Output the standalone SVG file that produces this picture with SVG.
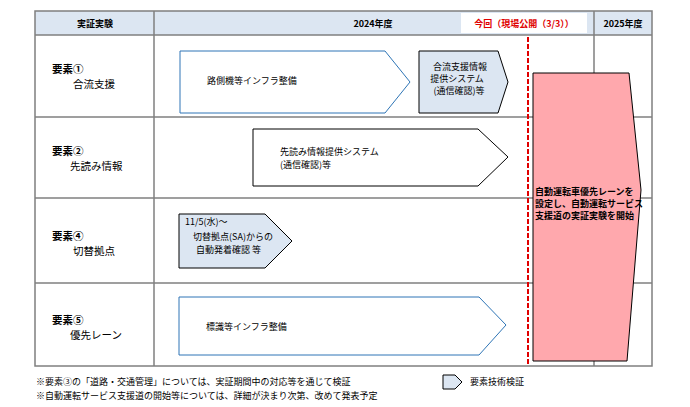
<svg xmlns="http://www.w3.org/2000/svg" width="690" height="407" viewBox="0 0 690 407">
<style>
text{font-family:"Noto Sans CJK JP","Liberation Sans",sans-serif;font-size:9px;fill:#000}
.b{font-weight:bold}
.lbl{font-size:10.5px}
.grid{stroke:#7f7f7f;stroke-width:1.5;fill:none}
.wa{fill:#fff;stroke:#2e75b6;stroke-width:1}
.ba{fill:#dce6f2;stroke:#000;stroke-width:1}
</style>
<rect width="690" height="407" fill="#fff"/>
<g id="table">
<rect x="35" y="11" width="617" height="24" fill="#dce6f2"/>
<rect x="461" y="13" width="126" height="20" fill="#fff"/>
<rect class="grid" x="35" y="11" width="617" height="355"/>
<line class="grid" x1="154" y1="11" x2="154" y2="366"/>
<line class="grid" x1="594" y1="11" x2="594" y2="366"/>
<line class="grid" x1="35" y1="35" x2="652" y2="35"/>
<line class="grid" x1="35" y1="117" x2="652" y2="117"/>
<line class="grid" x1="35" y1="198" x2="652" y2="198"/>
<line class="grid" x1="35" y1="283" x2="652" y2="283"/>
<text class="b" x="95" y="27" text-anchor="middle" font-size="10">実証実験</text>
<text class="b" x="373" y="27" text-anchor="middle" font-size="10">2024年度</text>
<text class="b" x="524" y="27" text-anchor="middle" font-size="10" style="fill:#e00000">今回（現場公開（3/3））</text>
<text class="b" x="623" y="27" text-anchor="middle" font-size="10">2025年度</text>
</g>
<g id="labels">
<text class="b lbl" x="52" y="73">要素①</text><text class="lbl" x="73" y="88">合流支援</text>
<text class="b lbl" x="52" y="155">要素②</text><text class="lbl" x="70" y="170">先読み情報</text>
<text class="b lbl" x="52" y="240">要素④</text><text class="lbl" x="73" y="255">切替拠点</text>
<text class="b lbl" x="52" y="324">要素⑤</text><text class="lbl" x="70" y="339">優先レーン</text>
</g>
<g id="row1">
<polygon class="wa" points="180,51 385,51 410,82 385,113 180,113"/>
<text x="207" y="84">路側機等インフラ整備</text>
<polygon class="ba" points="419,51 498,51 508,82 498,113 419,113"/>
<text x="460" y="70" text-anchor="middle" font-size="8.5">合流支援情報</text>
<text x="457" y="82" text-anchor="middle" font-size="8.5">提供システム</text>
<text x="459" y="94" text-anchor="middle" font-size="8.5">(通信確認)等</text>
</g>
<g id="row2">
<polygon points="253,129 478,129 508,157 478,186 253,186" fill="#fff" stroke="#000"/>
<text x="280" y="155" font-size="8.5">先読み情報提供システム</text>
<text x="280" y="168" font-size="8.5">(通信確認)等</text>
</g>
<g id="row4">
<polygon class="ba" points="179,214 265,214 292,241 265,268 179,268"/>
<text x="185" y="225" font-size="8.5">11/5(水)～</text>
<text x="193" y="240" font-size="8.5">切替拠点(SA)からの</text>
<text x="196" y="253" font-size="8.5">自動発着確認 等</text>
</g>
<g id="row5">
<polygon class="wa" points="179,297 479,297 506,325 479,355 179,355"/>
<text x="206" y="330" font-size="8.5">標識等インフラ整備</text>
</g>
<g id="start">
<polygon points="533,73 629,73 641,190 627,361 533,361" fill="#ffa8ad" stroke="#000" stroke-width="1"/>
<text class="b" x="535" y="195" font-size="9">自動運転車優先レーンを</text>
<text class="b" x="535" y="207" font-size="9">設定し、自動運転サービス</text>
<text class="b" x="535" y="219" font-size="9">支援道の実証実験を開始</text>
</g>
<g id="connectors">
<line x1="528" y1="37" x2="528" y2="366" stroke="#e00000" stroke-width="2" stroke-dasharray="5,2"/>
</g>
<g id="legend">
<polygon points="443,375 455,375 462,382 455,389 443,389" fill="#dce6f2" stroke="#000"/>
<text x="470" y="385" font-size="8.5">要素技術検証</text>
</g>
<g id="notes">
<text x="36" y="385" font-size="8">※要素③の「道路・交通管理」については、実証期間中の対応等を通じて検証</text>
<text x="36" y="399" font-size="8">※自動運転サービス支援道の開始等については、詳細が決まり次第、改めて発表予定</text>
</g>
</svg>
